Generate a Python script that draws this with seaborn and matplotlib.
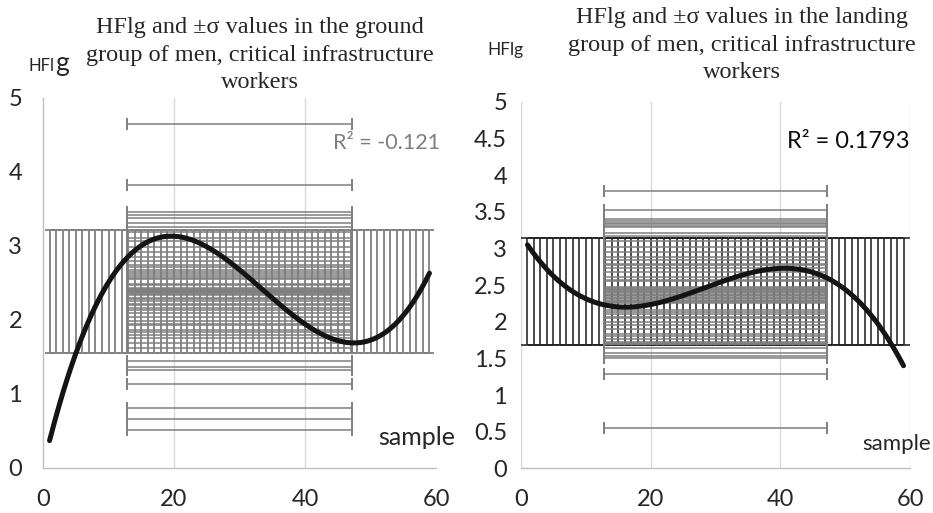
import numpy as np
import pandas as pd
import matplotlib
matplotlib.use("Agg")
import matplotlib.pyplot as plt
import seaborn as sns

# ---------------- data ----------------
sample_x = list(range(1, 60))

ground_hflg = [4.65, 3.82, 3.46, 3.42, 3.37, 3.31, 3.26,
               3.19, 3.10, 3.06, 2.98, 2.92, 2.85, 2.80, 2.74, 2.72, 2.68,
               2.65, 2.62, 2.59, 2.56, 2.55, 2.49, 2.47, 2.43, 2.42, 2.41,
               2.40, 2.39, 2.38, 2.37, 2.36, 2.35, 2.34, 2.29, 2.28, 2.25,
               2.22, 2.20, 2.16, 2.14, 2.09, 2.04, 1.98, 1.95, 1.93, 1.86,
               1.84, 1.80, 1.76, 1.69, 1.62,
               1.44, 1.37, 1.32, 1.14, 0.81, 0.66, 0.51]

landing_hflg = [3.78, 3.53, 3.40, 3.37, 3.35, 3.33, 3.31, 3.29, 3.21, 3.17,
                3.10, 3.02, 2.95, 2.88, 2.84, 2.79, 2.77, 2.73, 2.68, 2.61,
                2.57, 2.55, 2.48, 2.46, 2.45, 2.43, 2.42, 2.40, 2.39, 2.37,
                2.36, 2.35, 2.33, 2.32, 2.30, 2.28, 2.27, 2.25, 2.16, 2.14,
                2.11, 2.07, 2.05, 2.00, 1.95, 1.90, 1.84, 1.80, 1.77, 1.73,
                1.71, 1.70, 1.69,
                1.64, 1.58, 1.53, 1.50, 1.29, 0.55]

# mean ± sigma of HFlg (vertical error bars)
ground_sigma_band = [1.55, 3.22]
landing_sigma_band = [1.68, 3.15]

# cubic polynomial trendlines (a, b, c, d)
ground_trend = [0.00013267, -0.0133391, 0.369531, 0.013676]
landing_trend = [-0.000071686, 0.0061045, -0.140873, 3.18484]

ground_r2 = "R² = -0.121"
landing_r2 = "R² = 0.1793"

ground_title = "HFlg and ±σ values in the ground\ngroup of men, critical infrastructure\nworkers"
landing_title = "HFlg and ±σ values in the landing\ngroup of men, critical infrastructure\nworkers"

x_ticks = [0, 20, 40, 60]
ground_yticks = [0, 1, 2, 3, 4, 5]
landing_yticks = [0, 0.5, 1, 1.5, 2, 2.5, 3, 3.5, 4, 4.5, 5]
landing_ytick_labels = ["0", "0.5", "1", "1.5", "2", "2.5", "3", "3.5", "4", "4.5", "5"]

# ---------------- style ----------------
sns.set_style("white")
plt.rcParams['font.family'] = ['Lato', 'DejaVu Sans']
SERIF = ['Liberation Serif', 'DejaVu Serif']
GRAY = "#7f7f7f"
GRID = "#d9d9d9"
AXIS = "#bfbfbf"
TXT = "#262626"

W, H = 933, 513
fig = plt.figure(figsize=(W / 100, H / 100), dpi=100)


def fx(px):
    return px / W


def fy(py):
    return 1 - py / H


def panel(rect, yvals, band, trend, vcolor, vcap, vlw):
    ax = fig.add_axes(rect)
    x = np.array(sample_x, dtype=float)
    y = np.array(yvals, dtype=float)
    # horizontal ±σ bars (centered on the mean of x)
    xc = x.mean()
    xs = x.std(ddof=1)
    # vertical ±σ bars at each sample
    yc = (band[0] + band[1]) / 2
    ys = (band[1] - band[0]) / 2
    ax.errorbar(x, np.full_like(x, yc), yerr=ys, fmt='none', ecolor=vcolor,
                elinewidth=vlw, capsize=vcap, capthick=vlw, zorder=2)
    ax.errorbar(np.full_like(y, xc), y, xerr=xs, fmt='none', ecolor=GRAY,
                elinewidth=1.1, capsize=4.3, capthick=1.4, zorder=3)
    # trendline
    tx = np.linspace(x.min(), x.max(), 300)
    ty = np.polyval(trend, tx)
    sns.lineplot(x=tx, y=ty, ax=ax, color="#141414", linewidth=3.6,
                 sort=False, zorder=5)
    ax.set_xlim(0, 60)
    ax.set_ylim(0, 5)
    ax.set_xticks(x_ticks)
    return ax


# ---------------- left panel ----------------
axL = panel([fx(43), fy(468), fx(436) - fx(43), fy(97.7) - fy(468)],
            ground_hflg, ground_sigma_band, ground_trend, GRAY, 3.4, 1.3)
axL.set_yticks(ground_yticks)
for xv in [20, 40]:
    axL.axvline(xv, color=GRID, lw=1.0, zorder=0)
for s in ['top', 'right']:
    axL.spines[s].set_visible(False)
for s in ['left', 'bottom']:
    axL.spines[s].set_color(AXIS)
    axL.spines[s].set_linewidth(1.0)
axL.tick_params(axis='both', which='both', direction='out', length=5,
                width=1.0, color=AXIS, labelcolor=TXT)
axL.tick_params(axis='y', labelsize=17, pad=10)
axL.tick_params(axis='x', labelsize=17, pad=10)
axL.set_xlabel("")
axL.set_ylabel("")

# ---------------- right panel ----------------
axR = panel([fx(521), fy(468.3), fx(910) - fx(521), fy(102) - fy(468.3)],
            landing_hflg, landing_sigma_band, landing_trend, "#1a1a1a", 4.3, 1.1)
axR.set_yticks(landing_yticks)
axR.set_yticklabels(landing_ytick_labels)
for xv in x_ticks:
    axR.axvline(xv, color=GRID, lw=1.0, zorder=0)
for s in ['top', 'right', 'left']:
    axR.spines[s].set_visible(False)
axR.spines['bottom'].set_color(AXIS)
axR.spines['bottom'].set_linewidth(1.0)
axR.tick_params(axis='both', which='both', length=0, labelcolor=TXT)
axR.tick_params(axis='y', labelsize=17, pad=10)
axR.tick_params(axis='x', labelsize=17, pad=15)
axR.set_xlabel("")
axR.set_ylabel("")

# ---------------- texts ----------------
fig.text(fx(260), fy(17), ground_title, ha='center', va='top', fontsize=17.5,
         family=SERIF, color=TXT, linespacing=1.42)
fig.text(fx(742), fy(7), landing_title, ha='center', va='top', fontsize=17.5,
         family=SERIF, color=TXT, linespacing=1.42)

fig.text(fx(28), fy(71), "HFl", ha='left', va='baseline', fontsize=12, color=TXT)
fig.text(fx(55), fy(71), "g", ha='left', va='baseline', fontsize=19, color=TXT)
fig.text(fx(487), fy(55), "HFlg", ha='left', va='baseline', fontsize=12.5, color=TXT)

fig.text(fx(333), fy(149), ground_r2, ha='left', va='baseline', fontsize=15.5, color=GRAY)
fig.text(fx(787), fy(148), landing_r2, ha='left', va='baseline', fontsize=17, color="#0d0d0d")

fig.text(fx(378), fy(445), "sample", ha='left', va='baseline', fontsize=18, color=TXT)
fig.text(fx(862), fy(450), "sample", ha='left', va='baseline', fontsize=16, color=TXT)

fig.savefig("out.png", dpi=100)
